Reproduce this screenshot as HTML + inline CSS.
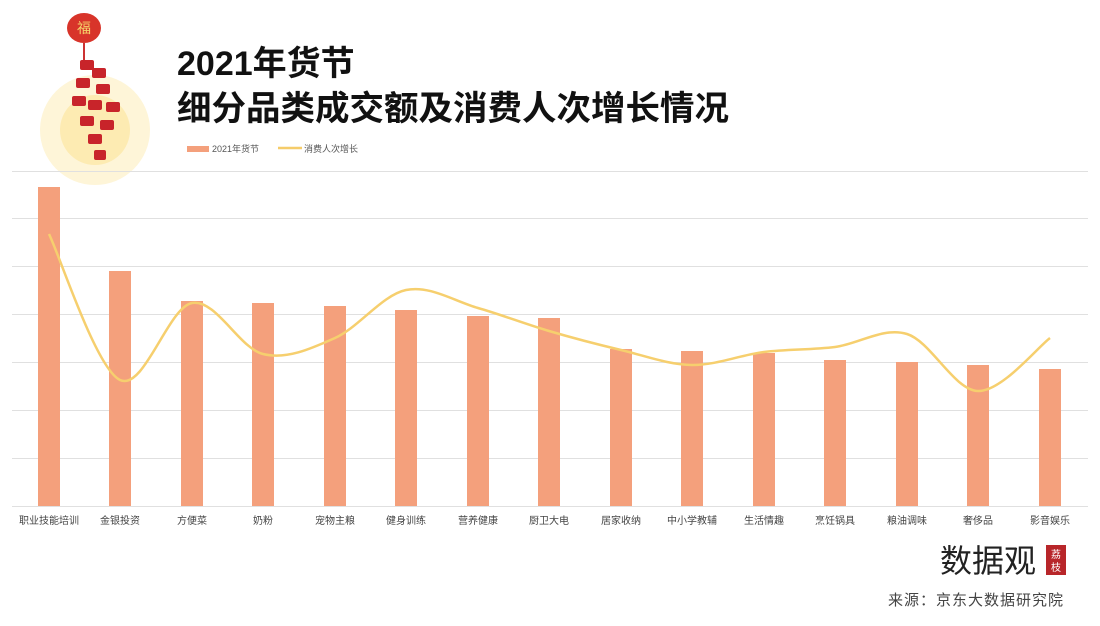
<!DOCTYPE html>
<html><head><meta charset="utf-8"><style>
body{margin:0;background:#fff;width:1100px;height:621px;overflow:hidden;font-family:"Liberation Sans","Noto Sans CJK SC",sans-serif}
</style></head><body>
<svg id="s" width="1100" height="621" xmlns="http://www.w3.org/2000/svg" font-family="Liberation Sans, Noto Sans CJK SC, sans-serif">
<rect width="1100" height="621" fill="#fff"/>
<circle cx="95" cy="130" r="55" fill="#fdf1c8" opacity="0.7"/>
<circle cx="95" cy="130" r="35" fill="#fbe49a" opacity="0.6"/>
<ellipse cx="84" cy="28" rx="17" ry="15" fill="#d8342a"/>
<text x="84" y="33" font-size="14" fill="#f5d36a" text-anchor="middle">福</text>
<line x1="84" y1="43" x2="84" y2="60" stroke="#c33" stroke-width="2"/>
<g fill="#c8242a">
<rect x="80" y="60" width="14" height="10" rx="2"/><rect x="92" y="68" width="14" height="10" rx="2"/>
<rect x="76" y="78" width="14" height="10" rx="2"/><rect x="96" y="84" width="14" height="10" rx="2"/>
<rect x="72" y="96" width="14" height="10" rx="2"/><rect x="88" y="100" width="14" height="10" rx="2"/>
<rect x="106" y="102" width="14" height="10" rx="2"/><rect x="80" y="116" width="14" height="10" rx="2"/>
<rect x="100" y="120" width="14" height="10" rx="2"/><rect x="88" y="134" width="14" height="10" rx="2"/>
<rect x="94" y="150" width="12" height="10" rx="2"/>
</g>
<text x="177" y="75" font-size="34" font-weight="bold" fill="#111">2021年货节</text>
<text x="177" y="120" font-size="34" font-weight="bold" fill="#111" textLength="552" lengthAdjust="spacingAndGlyphs">细分品类成交额及消费人次增长情况</text>
<rect x="187" y="146" width="22" height="6" fill="#f4a07c"/>
<text x="212" y="152" font-size="9" fill="#555">2021年货节</text>
<line x1="278" y1="148" x2="302" y2="148" stroke="#f5cc6a" stroke-width="2.5"/>
<text x="304" y="152" font-size="9" fill="#555">消费人次增长</text>
<g stroke="#e0e0e0" stroke-width="1" id="grid"></g>
<g id="bars"></g>
<path id="ln" fill="none" stroke="#f6cf6e" stroke-width="2.5"/>
<g id="lab" font-size="10" fill="#444" text-anchor="middle"></g>
<text x="940" y="572" font-size="32" fill="#222">数据观</text>
<rect x="1046" y="545" width="20" height="30" fill="#b8262a"/>
<text x="1056" y="558" font-size="10" fill="#fff" text-anchor="middle">荔</text>
<text x="1056" y="571" font-size="10" fill="#fff" text-anchor="middle">枝</text>
<text x="888" y="605" font-size="15" fill="#444" textLength="175">来源：京东大数据研究院</text>
</svg>
<script>
var ns="http://www.w3.org/2000/svg";
function el(t,a,p){var e=document.createElementNS(ns,t);for(var k in a)e.setAttribute(k,a[k]);document.getElementById(p).appendChild(e);return e;}
[171,218,266,314,362,410,458,506].forEach(function(y){el('line',{x1:12,x2:1088,y1:y+0.5,y2:y+0.5},'grid');});
var xs=[49,120,192,263,335,406,478,549,621,692,764,835,907,978,1050];
var tops=[187,271,301,303,306,310,316,318,349,351,353,360,362,365,369];
var ly=[234,380,303,354,338,290,308,331,350,365,352,347,334,391,338];
var names=["职业技能培训","金银投资","方便菜","奶粉","宠物主粮","健身训练","营养健康","厨卫大电","居家收纳","中小学教辅","生活情趣","烹饪锅具","粮油调味","奢侈品","影音娱乐"];
xs.forEach(function(x,i){el('rect',{x:x-11,y:tops[i],width:22,height:506-tops[i],fill:'#f4a07c'},'bars');
var t=el('text',{x:x,y:524},'lab');t.textContent=names[i];});
var d="M"+xs[0]+","+ly[0];
for(var i=0;i<xs.length-1;i++){var p0=i?i-1:i,p3=i+2<xs.length?i+2:i+1;
var c1x=xs[i]+(xs[i+1]-xs[p0])/6,c1y=ly[i]+(ly[i+1]-ly[p0])/6,c2x=xs[i+1]-(xs[p3]-xs[i])/6,c2y=ly[i+1]-(ly[p3]-ly[i])/6;
d+=" C"+c1x+","+c1y+" "+c2x+","+c2y+" "+xs[i+1]+","+ly[i+1];}
document.getElementById('ln').setAttribute('d',d);
</script>
</body></html>
